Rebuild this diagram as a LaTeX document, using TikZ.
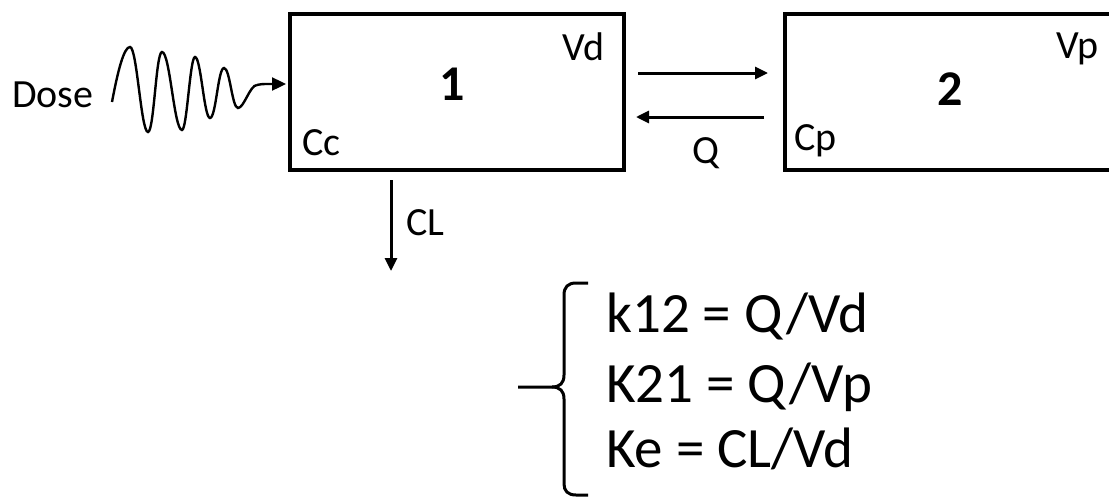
\documentclass[tikz,border=0pt]{standalone}
\usepackage{fontspec}
\setmainfont{Carlito}
\usetikzlibrary{arrows.meta}
\begin{document}
\begin{tikzpicture}[x=1pt,y=-1pt,
  box/.style={draw, line width=3.5pt, minimum height=156pt, inner sep=0pt, anchor=north west},
  lbl/.style={inner sep=0pt, font=\fontsize{40}{42}\selectfont},
  num/.style={inner sep=0pt, font=\fontsize{50}{52}\selectfont\bfseries},
  eq/.style={inner sep=0pt, anchor=base west, font=\fontsize{57}{60}\selectfont},
  arr/.style={line width=3pt, -{Triangle[length=13pt,width=12pt]}},
  brace/.style={line width=3pt}]
\useasboundingbox (0,0) rectangle (1109,498);
% boxes
\node[box, minimum width=334pt] (b1) at (288,12) {};
\node[box, minimum width=345pt] (b2) at (783,12) {};
% box labels
\node[num, anchor=base] (n1) at (452,100) {1};
\node[num, anchor=base] (n2) at (950,105) {2};
\node[lbl, anchor=base west] (vd) at (562,60) {Vd};
\node[lbl, anchor=base west] (cc) at (302,155) {Cc};
\node[lbl, anchor=base west] (vp) at (1056,58) {Vp};
\node[lbl, anchor=base west] (cp) at (794,150) {Cp};
% dose
\node[lbl, anchor=base west] (dose) at (12,107) {Dose};
\coordinate (w0) at (112,102);
\coordinate (w1) at (257,85);
\coordinate (win) at (286,84);
\draw[line width=2.4pt] (w0) .. controls (118,70) and (124,47) .. (130,47)
  .. controls (137,47) and (141,132) .. (148,132)
  .. controls (154,132) and (156,52) .. (162,52)
  .. controls (170,52) and (174,130) .. (182,130)
  .. controls (187,130) and (190,57) .. (195,57)
  .. controls (201,57) and (204,118) .. (210,118)
  .. controls (216,118) and (218,68) .. (224,68)
  .. controls (230,68) and (232,108) .. (238,108)
  .. controls (244,108) and (250,85) .. (w1);
\draw[line width=2.4pt, -{Triangle[length=14pt,width=13pt]}] (w1) .. controls (262,84) .. (270,84) -- (win);
% exchange arrows
\coordinate (a1s) at (638,73);
\coordinate (a1e) at (768,73);
\coordinate (a2s) at (764,117);
\coordinate (a2e) at (636,117);
\draw[arr] (a1s) -- (a1e);
\draw[arr] (a2s) -- (a2e);
\node[lbl, anchor=base] (q) at (706,163) {Q};
% clearance
\coordinate (cls) at (391,180);
\coordinate (cle) at (391,271);
\draw[arr] (cls) -- (cle);
\node[lbl, anchor=base west] (cl) at (406,235) {CL};
% brace
\coordinate (bm) at (518,387);
\draw[brace] (588,283) -- (576,283) .. controls (568,283) and (564,287) .. (564,295) -- (564,375)
  .. controls (564,383) and (560,387) .. (552,387) -- (bm);
\draw[brace] (552,387) .. controls (560,387) and (564,391) .. (564,399) -- (564,484)
  .. controls (564,491) and (568,495) .. (576,495) -- (588,495);
% equations
\node[eq] (e1) at (606,332) {k12 = Q/Vd};
\node[eq] (e2) at (606,402) {K21 = Q/Vp};
\node[eq] (e3) at (606,467) {Ke = CL/Vd};
\end{tikzpicture}
\end{document}
